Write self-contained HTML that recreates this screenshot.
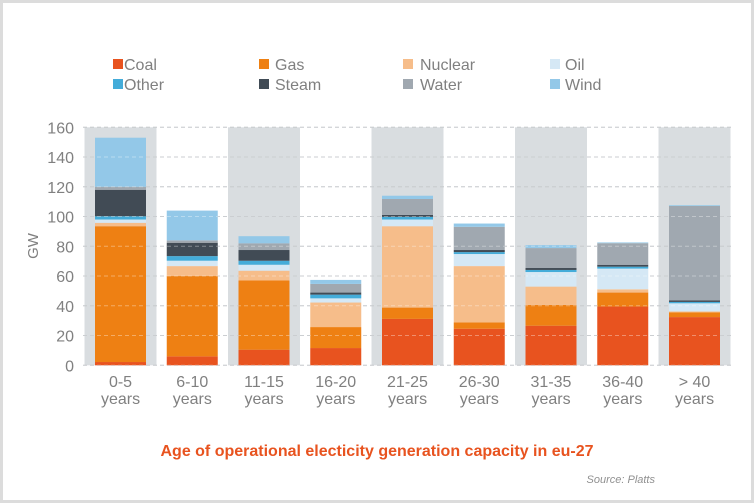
<!DOCTYPE html>
<html><head><meta charset="utf-8"><style>
html,body{margin:0;padding:0;background:#fff;}
#wrap{position:relative;width:754px;height:503px;box-sizing:border-box;border:3px solid #dcdcdc;overflow:hidden;font-family:"Liberation Sans","DejaVu Sans",sans-serif;}
svg{position:absolute;left:-3px;top:-3px;}
</style></head><body>
<div id="wrap">
<svg id="chart" width="754" height="503"></svg>
</div>
<script>
const categories=["0-5","6-10","11-15","16-20","21-25","26-30","31-35","36-40","> 40"];
const seriesNames=["Coal","Gas","Nuclear","Oil","Other","Steam","Water","Wind"];
const coal=[2.2,6,10.5,11.6,31.2,24.6,26.6,39.5,32.4];
const gas=[91.3,54,46.5,14.1,7.6,4.2,14,9.4,3.1];
const nuclear=[2.3,6.7,6.6,16.5,54.7,37.9,12.3,2.2,0.7];
const oil=[2.2,3.6,4,2.8,4.5,8.1,9.8,13.9,5.5];
const other=[2.2,3.1,2.7,2.5,1.8,1.3,1.4,1.3,0.9];
const steam=[17.8,9,7.2,1.4,1.3,1.4,1.3,1.3,1.1];
const water=[2,1.6,4.5,5.8,10.7,15.6,13.4,14.5,63.4];
const wind=[33,20,4.8,2.7,2.2,2.2,2,0.5,0.5];
const yTicks=[0,20,40,60,80,100,120,140,160];
const series=[coal,gas,nuclear,oil,other,steam,water,wind];
const colors=["#e8531f","#ee8013","#f6bd8a","#d5e8f5","#44acd9","#414b55","#a0a8b0","#93c8e8"];
const NS="http://www.w3.org/2000/svg";
const svg=document.getElementById('chart');
const y0=365.3,yTop=127.3,yMax=160;
function yScale(v){return y0-(v/yMax)*(y0-yTop);}
const step=71.75,firstC=120.5;
function xCenter(i){return firstC+i*step;}
function mk(tag,attrs,parent){const e=document.createElementNS(NS,tag);for(const k in attrs)e.setAttribute(k,attrs[k]);(parent||svg).appendChild(e);return e;}
categories.forEach((c,i)=>{if(i%2===0){const b=mk('rect',{x:xCenter(i)-36,y:yTop,width:72,height:y0-yTop,fill:'#d9dde0'});

}});
yTicks.forEach(t=>{const l=mk('line',{x1:83,x2:731,y1:yScale(t),y2:yScale(t),stroke:'#b0b4b8','stroke-width':1,'stroke-dasharray':'4,3'});


const tx=mk('text',{x:74,y:yScale(t)+6,'text-anchor':'end','font-size':16,fill:'#808080'});tx.textContent=t;

});
categories.forEach((c,i)=>{let acc=0;series.forEach((s,k)=>{const v=s[i];const r=mk('rect',{x:xCenter(i)-25.5,y:yScale(acc+v),width:51,height:Math.max(0,yScale(acc)-yScale(acc+v)),fill:colors[k]});


acc+=v;});
const t1=mk('text',{x:xCenter(i),y:387,'text-anchor':'middle','font-size':16,fill:'#808080'});t1.textContent=c;


const t2=mk('text',{x:xCenter(i),y:404,'text-anchor':'middle','font-size':16,fill:'#808080'});t2.textContent='years';

});
yTicks.forEach(t=>{const l=mk('line',{x1:83,x2:731,y1:yScale(t),y2:yScale(t),stroke:'rgba(255,255,255,0.35)','stroke-width':1,'stroke-dasharray':'4,3'});

});
const yt=mk('text',{x:38,y:246,'text-anchor':'middle','font-size':15,fill:'#808080',transform:'rotate(-90 38 246)'});yt.textContent='GW';


const sq=[113,259,403,550],tx=[124,275,420,565];
seriesNames.forEach((n,k)=>{const col=k%4,row=Math.floor(k/4);const yy=row===0?65:85;
const s=mk('rect',{x:sq[col],y:yy-6,width:10,height:10,fill:colors[k]});


const t=mk('text',{x:tx[col],y:yy+5,'font-size':16,fill:'#808080'});t.textContent=n;

});
const ti=mk('text',{x:377,y:456,'text-anchor':'middle','font-size':16,'font-weight':'bold',fill:'#e8531f'});ti.textContent='Age of operational electicity generation capacity in eu-27';


const so=mk('text',{x:655,y:483,'text-anchor':'end','font-size':11,'font-style':'italic',fill:'#909090'});so.textContent='Source: Platts';


</script>
</body></html>
